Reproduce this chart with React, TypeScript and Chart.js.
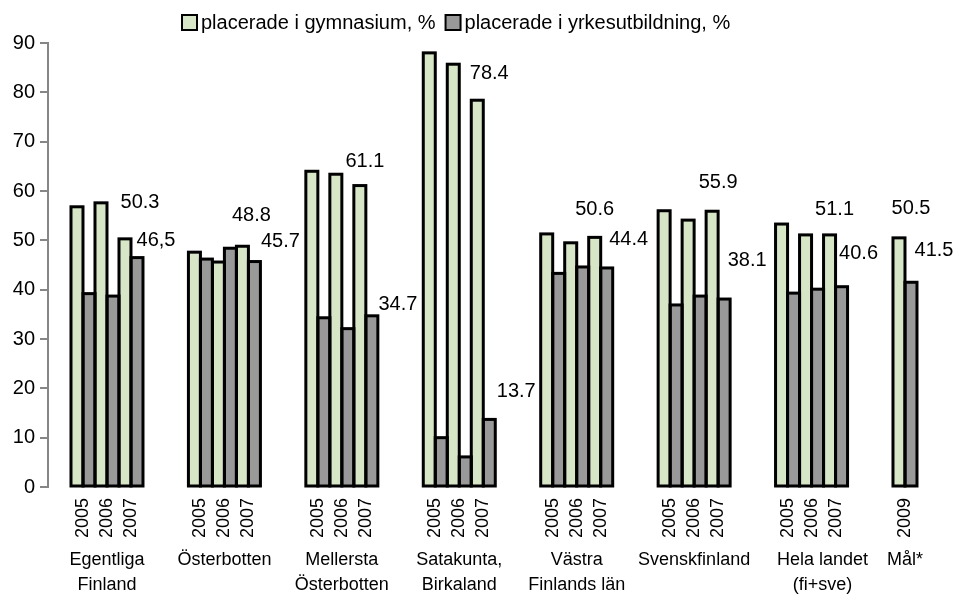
import React, { useEffect, useRef } from 'react';
import { Chart, registerables } from 'chart.js';

Chart.register(...registerables);

// ---------- data ----------
const groupNames: string[][] = [
  ['Egentliga', 'Finland'],
  ['Österbotten'],
  ['Mellersta', 'Österbotten'],
  ['Satakunta,', 'Birkaland'],
  ['Västra', 'Finlands län'],
  ['Svenskfinland'],
  ['Hela landet', '(fi+sve)'],
  ['Mål*'],
];
const groupYears: string[][] = [
  ['2005', '2006', '2007'],
  ['2005', '2006', '2007'],
  ['2005', '2006', '2007'],
  ['2005', '2006', '2007'],
  ['2005', '2006', '2007'],
  ['2005', '2006', '2007'],
  ['2005', '2006', '2007'],
  ['2009'],
];
const gymnasium: number[][] = [
  [56.8, 57.6, 50.3],
  [47.6, 45.6, 48.8],
  [64.0, 63.4, 61.1],
  [88.0, 85.7, 78.4],
  [51.3, 49.5, 50.6],
  [56.0, 54.1, 55.9],
  [53.3, 51.1, 51.1],
  [50.5],
];
const yrkesutbildning: number[][] = [
  [39.2, 38.7, 46.5],
  [46.2, 48.4, 45.7],
  [34.3, 32.1, 34.7],
  [10.0, 6.1, 13.7],
  [43.3, 44.6, 44.4],
  [36.9, 38.7, 38.1],
  [39.3, 40.1, 40.6],
  [41.5],
];
// value labels shown on the latest year of each group
const gymLabels = ['50.3', '48.8', '61.1', '78.4', '50.6', '55.9', '51.1', '50.5'];
const yrkLabels = ['46,5', '45.7', '34.7', '13.7', '44.4', '38.1', '40.6', '41.5'];
const seriesNames = ['placerade i gymnasium, %', 'placerade i yrkesutbildning, %'];
const yMin = 0;
const yMax = 90;
const yStep = 10;

// ---------- style ----------
const GREEN = '#D6E6C7';
const GREY = '#999999';
const AXIS = '#868686';
const FONT = '"Liberation Sans", Arial, sans-serif';
const GROUP_STEP = 4.893; // distance between groups, in year-slot units
// label placement offsets (px) relative to bar top-centre
const gymLabelDx = [15, 9, 5, 12, 0, 6, 5, 12];
const gymLabelDy = [-36, -31, -24, -27, -28, -29, -25, -29];
const yrkLabelDx = [19, 26, 26, 27, 22, 23, 17, 23];
const yrkLabelDy = [-17, -20, -11, -28, -28, -39, -33, -32];
const groupLabelShift = [0, 0, 0, 0, 0, 0, 11, 0];

// flatten
const xPos: number[] = [];
const yearLabels: string[] = [];
const yearIdx: number[] = [];
const groupIdx: number[] = [];
const gymFlat: { x: number; y: number }[] = [];
const yrkFlat: { x: number; y: number }[] = [];
groupYears.forEach((years, g) => {
  years.forEach((yr, i) => {
    const x = g * GROUP_STEP + i;
    xPos.push(x);
    yearLabels.push(yr);
    yearIdx.push(i);
    groupIdx.push(g);
    gymFlat.push({ x, y: gymnasium[g][i] });
    yrkFlat.push({ x, y: yrkesutbildning[g][i] });
  });
});

const outlinePlugin = {
  id: 'barOutline',
  afterDatasetsDraw(chart: any) {
    const ctx: CanvasRenderingContext2D = chart.ctx;
    ctx.save();
    ctx.strokeStyle = '#000';
    ctx.lineWidth = 3;
    ctx.lineJoin = 'miter';
    [0, 1].forEach((d) => {
      chart.getDatasetMeta(d).data.forEach((el: any) => {
        const { x, y, base, width } = el.getProps(['x', 'y', 'base', 'width'], true);
        ctx.strokeRect(x - width / 2, y, width, base - y);
      });
    });
    ctx.restore();
  },
};

const textPlugin = {
  id: 'customText',
  afterDatasetsDraw(chart: any) {
    const ctx: CanvasRenderingContext2D = chart.ctx;
    const xs = chart.scales.x;
    const area = chart.chartArea;
    const m0 = chart.getDatasetMeta(0);
    const m1 = chart.getDatasetMeta(1);
    ctx.save();
    ctx.fillStyle = '#000';

    // data labels on last bar pair of each group
    ctx.font = `20px ${FONT}`;
    ctx.textAlign = 'center';
    ctx.textBaseline = 'middle';
    groupYears.forEach((years, g) => {
      const idx = groupIdx.findIndex((gg, k) => gg === g && yearIdx[k] === years.length - 1);
      const e0 = m0.data[idx];
      const e1 = m1.data[idx];
      ctx.fillText(gymLabels[g], e0.x + gymLabelDx[g], e0.y + gymLabelDy[g]);
      ctx.fillText(yrkLabels[g], e1.x + yrkLabelDx[g], e1.y + yrkLabelDy[g]);
    });

    // year labels (rotated)
    ctx.font = `18px ${FONT}`;
    ctx.textAlign = 'right';
    ctx.textBaseline = 'middle';
    xPos.forEach((v, k) => {
      const px = xs.getPixelForValue(v);
      ctx.save();
      ctx.translate(px, area.bottom + 11);
      ctx.rotate(-Math.PI / 2);
      ctx.fillText(yearLabels[k], 0, 0);
      ctx.restore();
    });

    // group labels
    ctx.font = `18px ${FONT}`;
    ctx.textAlign = 'center';
    ctx.textBaseline = 'middle';
    groupNames.forEach((lines, g) => {
      const first = xs.getPixelForValue(g * GROUP_STEP);
      const last = xs.getPixelForValue(g * GROUP_STEP + groupYears[g].length - 1);
      const cx = (first + last) / 2 + groupLabelShift[g];
      lines.forEach((line, li) => {
        ctx.fillText(line, cx, area.bottom + 73 + li * 25);
      });
    });

    // legend
    ctx.font = `20px ${FONT}`;
    ctx.textAlign = 'left';
    ctx.textBaseline = 'middle';
    let lx = 182;
    const ly = 15;
    const box = 15;
    [GREEN, GREY].forEach((col, s) => {
      ctx.fillStyle = col;
      ctx.fillRect(lx, ly, box, box);
      ctx.strokeStyle = '#000';
      ctx.lineWidth = 2;
      ctx.strokeRect(lx, ly, box, box);
      ctx.fillStyle = '#000';
      const tx = lx + box + 4;
      ctx.fillText(seriesNames[s], tx, ly + box / 2 + 0.5);
      lx = tx + ctx.measureText(seriesNames[s]).width + 10;
    });
    ctx.restore();
  },
};

export default function App() {
  const ref = useRef<HTMLCanvasElement | null>(null);
  useEffect(() => {
    if (!ref.current) return;
    const chart = new Chart(ref.current, {
      type: 'bar',
      data: {
        datasets: [
          {
            label: seriesNames[0],
            data: gymFlat,
            backgroundColor: GREEN,
            borderWidth: 0,
            inflateAmount: 0,
          },
          {
            label: seriesNames[1],
            data: yrkFlat,
            backgroundColor: GREY,
            borderWidth: 0,
            inflateAmount: 0,
          },
        ],
      },
      options: {
        animation: false,
        responsive: true,
        maintainAspectRatio: false,
        layout: { padding: { top: 43, bottom: 108, left: 0, right: 17 } },
        datasets: { bar: { categoryPercentage: 1, barPercentage: 1 } },
        plugins: { legend: { display: false }, tooltip: { enabled: false } },
        events: [],
        scales: {
          x: {
            type: 'linear',
            display: false,
            offset: false,
            min: -1.458,
            max: 35.71,
          },
          y: {
            min: yMin,
            max: yMax,
            afterFit: (s: any) => {
              s.width = 48;
            },
            ticks: {
              stepSize: yStep,
              color: '#000',
              padding: 5,
              font: { size: 20, family: FONT },
            },
            grid: {
              drawOnChartArea: false,
              drawTicks: true,
              tickLength: 8,
              color: AXIS,
              lineWidth: 2,
            },
            border: { display: true, color: AXIS, width: 2 },
          },
        },
      },
      plugins: [outlinePlugin, textPlugin],
    } as any);
    return () => chart.destroy();
  }, []);
  return (
    <div style={{ position: 'fixed', left: 0, top: 0, width: 957, height: 595, background: '#fff' }}>
      <canvas ref={ref} />
    </div>
  );
}
